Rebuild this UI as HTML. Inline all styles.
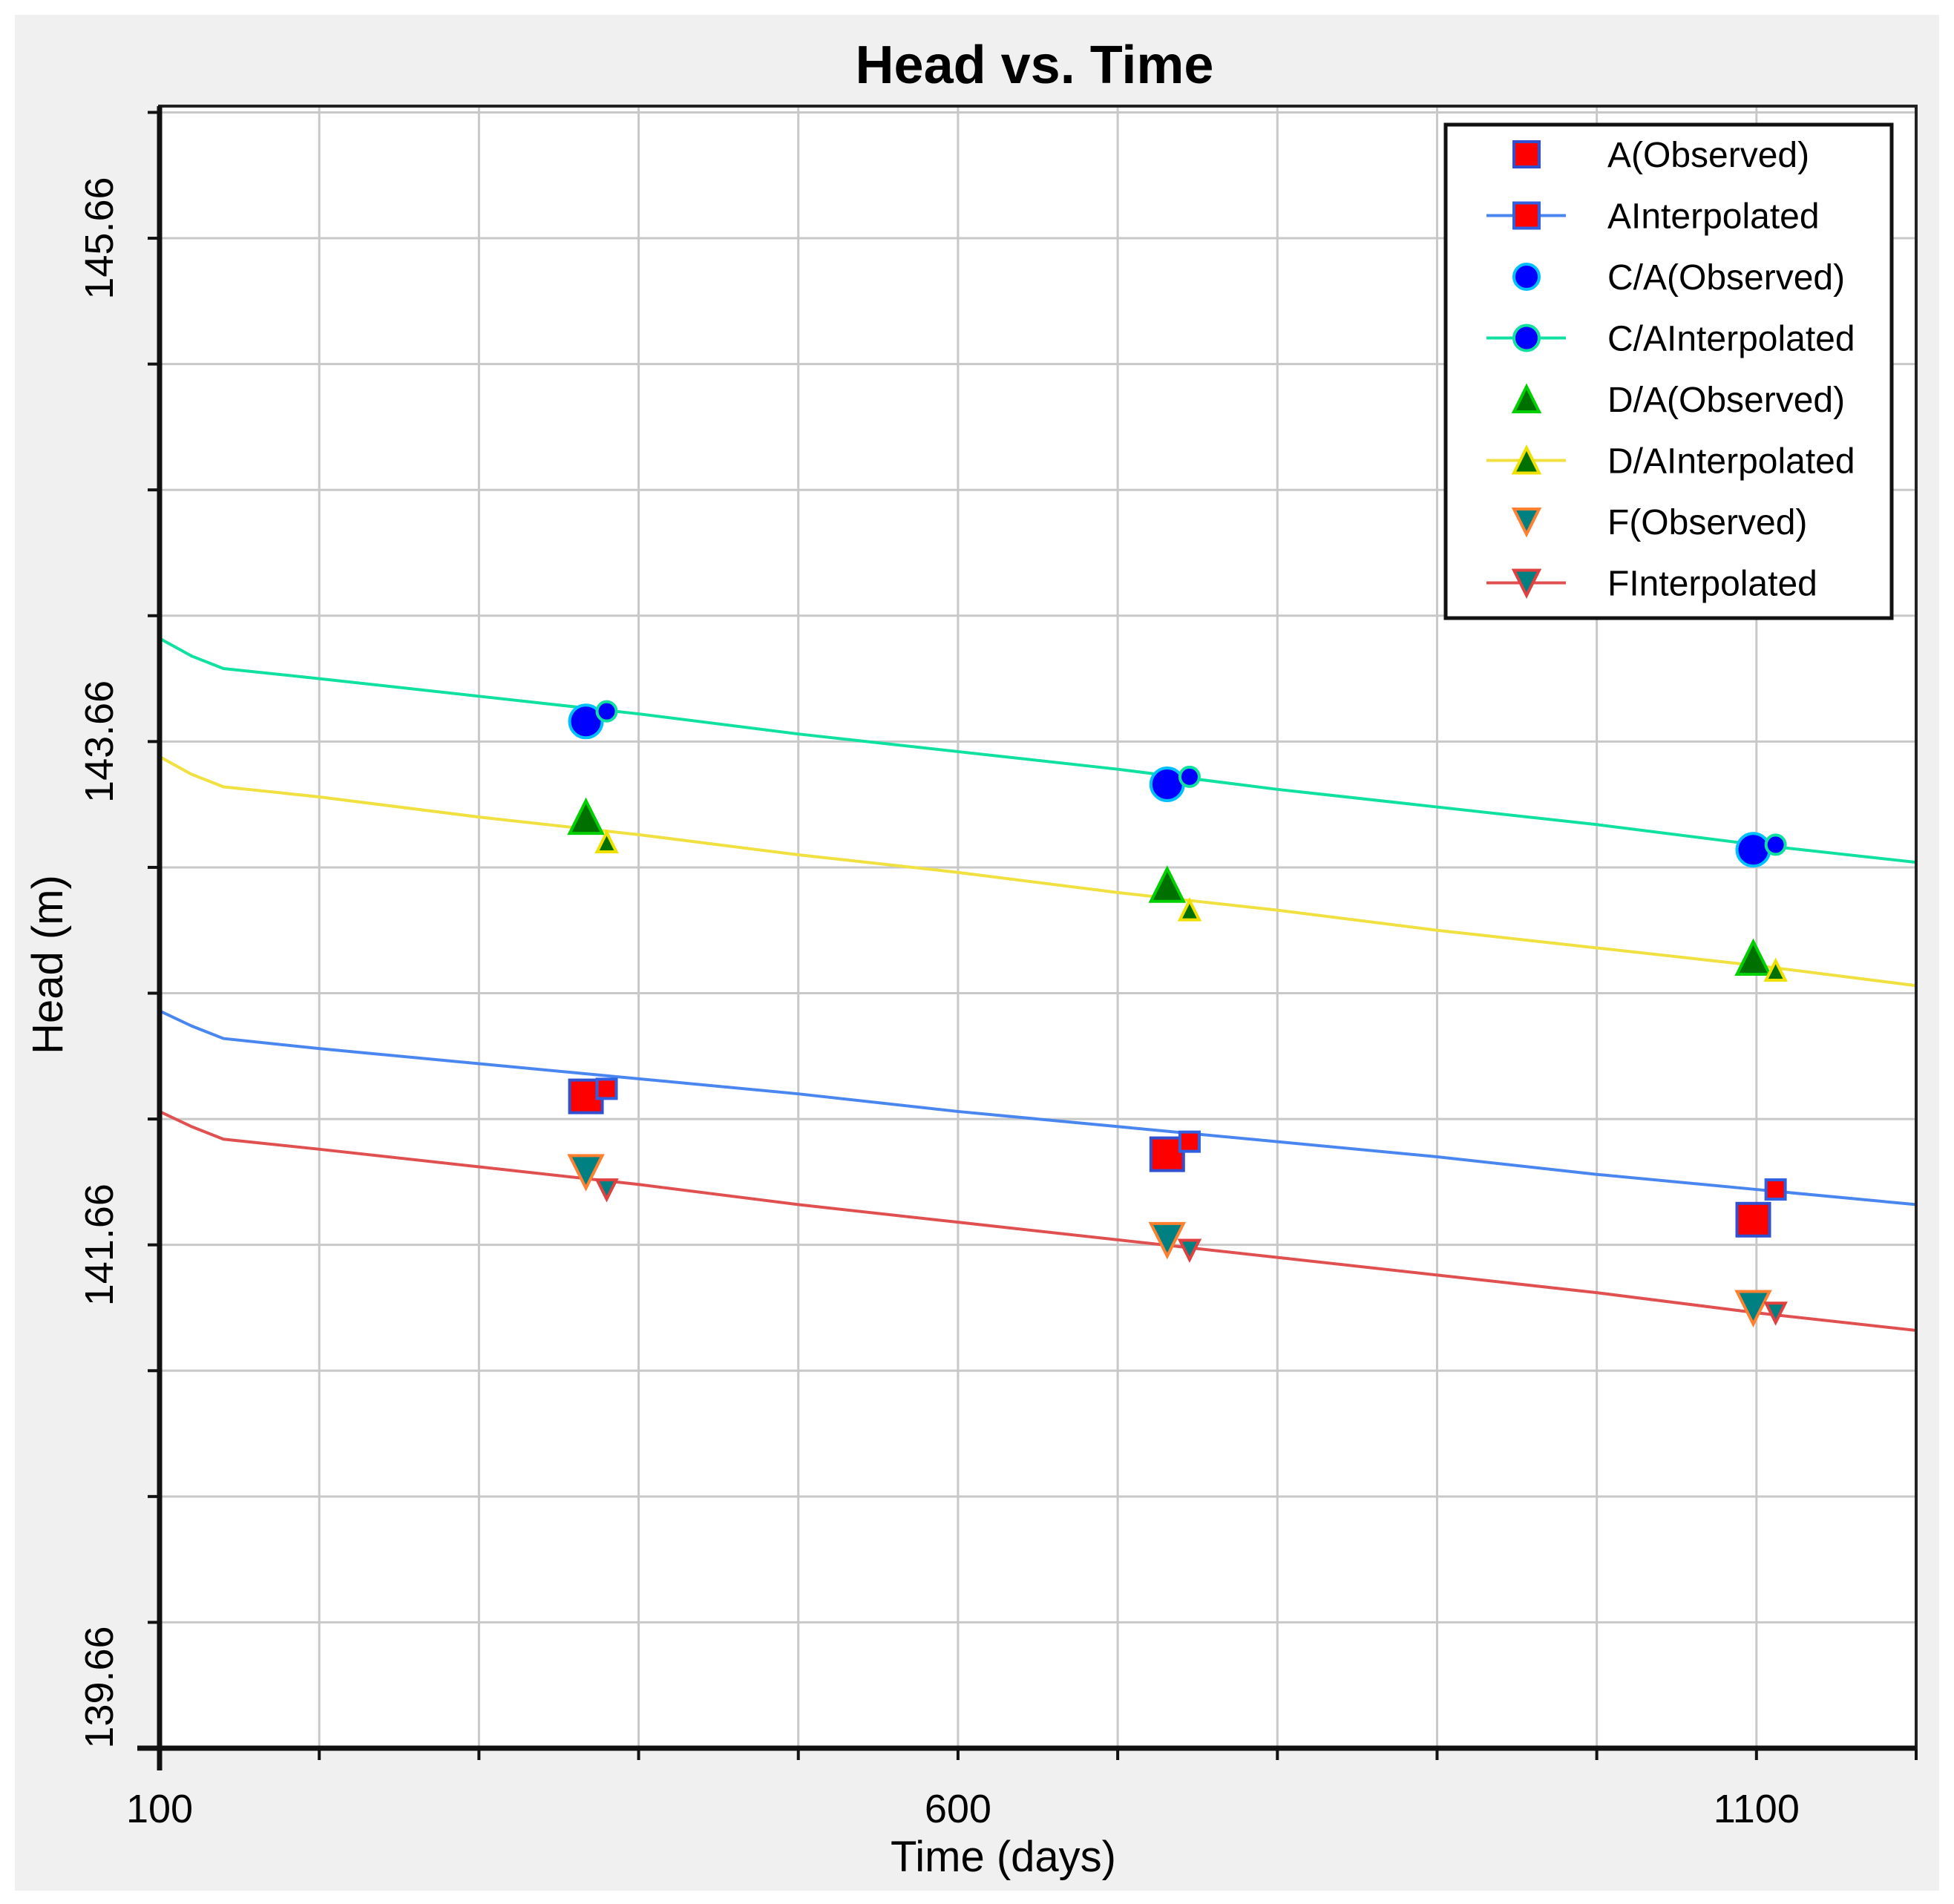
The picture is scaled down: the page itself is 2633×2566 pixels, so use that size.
<!DOCTYPE html>
<html><head><meta charset="utf-8"><style>
html,body{margin:0;padding:0;background:#fff}
svg{display:block}
text{font-family:"Liberation Sans",Arial,sans-serif}
</style></head><body>
<svg id="chart" width="2633" height="2566" viewBox="0 0 2633 2566">
<rect x="20" y="20" width="2593" height="2528" fill="#f0f0f0"/>
<rect x="215" y="143" width="2367" height="2213" fill="#fff"/>
<g id="grid"></g>
<g id="series"></g>
<g id="axes"></g>
<text x="1394" y="112" font-size="72" font-weight="bold" text-anchor="middle">Head vs. Time</text>
<text x="1352" y="2522" font-size="58" text-anchor="middle">Time (days)</text>
<text transform="translate(84,1300) rotate(-90)" font-size="58" text-anchor="middle">Head (m)</text>
<g id="legend"></g>
</svg>
<script>
const days = [100,120,140,200,300,400,500,600,700,800,900,1000,1100,1200];
const lineCA = [144.07,144.00,143.95,143.91,143.84,143.77,143.69,143.62,143.55,143.47,143.40,143.33,143.25,143.18];
const lineDA = [143.60,143.53,143.48,143.44,143.36,143.29,143.21,143.14,143.06,142.99,142.91,142.84,142.77,142.69];
const lineA  = [142.59,142.53,142.48,142.44,142.38,142.32,142.26,142.19,142.13,142.07,142.01,141.94,141.88,141.82];
const lineF  = [142.19,142.13,142.08,142.04,141.97,141.90,141.82,141.75,141.68,141.61,141.54,141.47,141.39,141.32];
const obsDays = [367,731,1098];
const obsA  = [142.25,142.02,141.76];
const obsCA = [143.74,143.49,143.23];
const obsDA = [143.36,143.09,142.80];
const obsF  = [141.95,141.68,141.41];
const intDays = [380,745,1112];
const intA  = [142.28,142.07,141.88];
const intCA = [143.78,143.52,143.25];
const intDA = [143.26,142.99,142.75];
const intF  = [141.88,141.64,141.39];
const yTicks = [139.66,141.66,143.66,145.66];
const xTicks = [100,600,1100];

const NS='http://www.w3.org/2000/svg';
const L=215,R=2582,T=143,B=2356;
const xMin=100,xMax=1200,yMin=139.66,yMax=146.185;
const sx=d=>L+(d-xMin)/(xMax-xMin)*(R-L);
const sy=v=>B-(v-yMin)/(yMax-yMin)*(B-T);
function mk(tag,attrs,parent){const e=document.createElementNS(NS,tag);for(const k in attrs)e.setAttribute(k,attrs[k]);parent.appendChild(e);return e;}
const grid=document.getElementById('grid'),axes=document.getElementById('axes'),ser=document.getElementById('series'),leg=document.getElementById('legend');

for(let d=200;d<=1200;d+=100){const g=mk('line',{x1:sx(d),x2:sx(d),y1:T,y2:B,stroke:'#c8c8c8','stroke-width':3},grid);


const t=mk('line',{x1:sx(d),x2:sx(d),y1:B,y2:B+16,stroke:'#111','stroke-width':4},axes);

}
for(let v=yMin+0.5;v<yMax;v+=0.5){const g=mk('line',{x1:L,x2:R,y1:sy(v),y2:sy(v),stroke:'#c8c8c8','stroke-width':3},grid);


const t=mk('line',{x1:L-16,x2:L,y1:sy(v),y2:sy(v),stroke:'#111','stroke-width':4},axes);

}
let a=mk('rect',{x:L,y:T,width:R-L,height:B-T,fill:'none',stroke:'#222','stroke-width':4},axes);


a=mk('line',{x1:L,x2:L,y1:T,y2:B+30,stroke:'#111','stroke-width':7},axes);


a=mk('line',{x1:L-30,x2:R,y1:B,y2:B,stroke:'#111','stroke-width':7},axes);


xTicks.forEach(d=>{const t=mk('text',{x:sx(d),y:B+100,'font-size':54,'text-anchor':'middle'},axes);t.textContent=d;

});
yTicks.forEach(v=>{let cy=Math.min(sy(v),B-82);const t=mk('text',{transform:`translate(152,${cy}) rotate(-90)`,'font-size':54,'text-anchor':'middle'},axes);t.textContent=v.toFixed(2);

});

function marker(kind,cx,cy,s,fill,stroke,parent){
  let e;
  if(kind==='sq')e=mk('rect',{x:cx-s/2,y:cy-s/2,width:s,height:s,fill,stroke,'stroke-width':4},parent);
  else if(kind==='ci')e=mk('circle',{cx,cy,r:s/2,fill,stroke,'stroke-width':4},parent);
  else if(kind==='up')e=mk('polygon',{points:`${cx},${cy-s/2} ${cx-s/2},${cy+s/2} ${cx+s/2},${cy+s/2}`,fill,stroke,'stroke-width':4},parent);
  else e=mk('polygon',{points:`${cx-s/2},${cy-s/2} ${cx+s/2},${cy-s/2} ${cx},${cy+s/2}`,fill,stroke,'stroke-width':4},parent);
  return e;
}
const S=[
 {name:'a',line:lineA,col:'#4a86f0',obs:obsA,int:intA,k:'sq',fill:'#ff0000',ostroke:'#3050d0',istroke:'#3060e0'},
 {name:'ca',line:lineCA,col:'#10e0a0',obs:obsCA,int:intCA,k:'ci',fill:'#0000ff',ostroke:'#00c0ff',istroke:'#10e0a0'},
 {name:'da',line:lineDA,col:'#f0e040',obs:obsDA,int:intDA,k:'up',fill:'#007000',ostroke:'#00d000',istroke:'#f0e000'},
 {name:'f',line:lineF,col:'#e05050',obs:obsF,int:intF,k:'dn',fill:'#008080',ostroke:'#ff8030',istroke:'#e04040'}
];
S.forEach(s=>{
  const p=mk('polyline',{points:days.map((d,i)=>sx(d)+','+sy(s.line[i])).join(' '),fill:'none',stroke:s.col,'stroke-width':4},ser);
  
  
  obsDays.forEach((d,i)=>{const m=marker(s.k,sx(d),sy(s.obs[i]),44,s.fill,s.ostroke,ser);
    
    });
  intDays.forEach((d,i)=>{const m=marker(s.k,sx(d),sy(s.int[i]),26,s.fill,s.istroke,ser);
    
    });
});

const lb=mk('rect',{x:1948,y:168,width:601,height:665,fill:'#fff',stroke:'#111','stroke-width':5},leg);


const labels=['A(Observed)','AInterpolated','C/A(Observed)','C/AInterpolated','D/A(Observed)','D/AInterpolated','F(Observed)','FInterpolated'];
labels.forEach((lab,i)=>{
  const s=S[Math.floor(i/2)],isLine=i%2===1,cy=208+i*82.5;
  const g=mk('g',{},leg);
  
  
  if(isLine)mk('line',{x1:2003,x2:2110,y1:cy,y2:cy,stroke:s.col,'stroke-width':4},g);
  marker(s.k,2057,cy,34,s.fill,isLine?s.istroke:s.ostroke,g);
  const t=mk('text',{x:2166,y:cy+17,'font-size':48},g);t.textContent=lab;
});
</script>
</body></html>
